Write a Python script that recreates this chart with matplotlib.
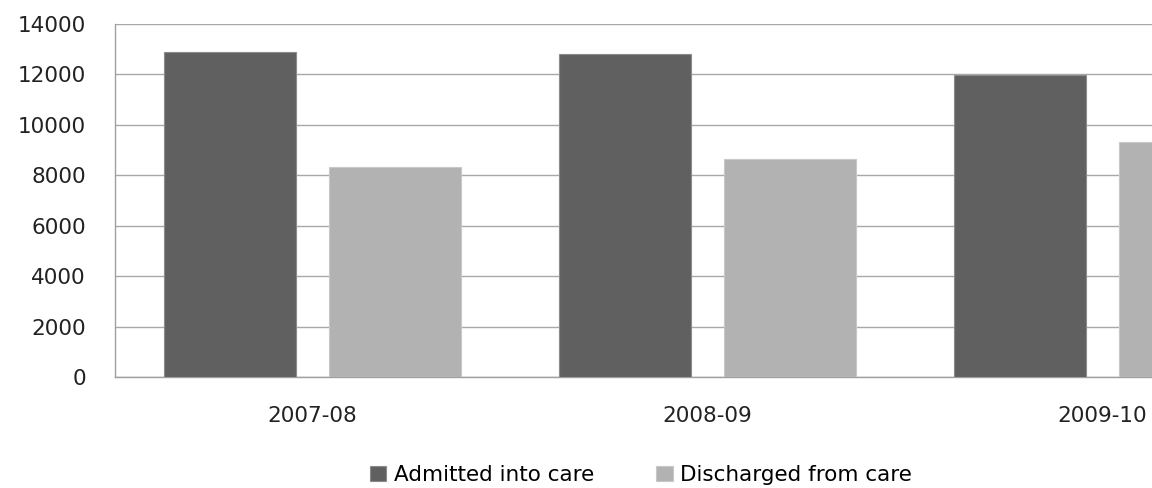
import matplotlib
matplotlib.use("Agg")
import matplotlib.pyplot as plt
import numpy as np

categories = ["2007-08", "2008-09", "2009-10"]
admitted = [12880, 12820, 11990]
discharged = [8320, 8640, 9330]
series_names = ["Admitted into care", "Discharged from care"]
yticks = [0, 2000, 4000, 6000, 8000, 10000, 12000, 14000]

plt.rcParams['font.family'] = ['DejaVu Sans']

W, H = 1152, 488
fig = plt.figure(figsize=(W / 100, H / 100), dpi=100)
ax = fig.add_axes([115 / W, 111 / H, 1185 / W, 353 / H])

x = np.arange(len(categories))
bw = 0.333
off = 0.2085
ax.bar(x - off, admitted, bw, color="#606060", edgecolor="#8c8c8c", linewidth=0.8,
       label=series_names[0], zorder=3)
ax.bar(x + off, discharged, bw, color="#b2b2b2", edgecolor="#c8c8c8", linewidth=0.8,
       label=series_names[1], zorder=3)

ax.set_xlim(-0.5, 2.5)
ax.set_ylim(0, 14000)
ax.set_yticks(yticks)
ax.set_yticklabels([str(v) for v in yticks], fontsize=15.5, color="#222222")
ax.set_xticks(x)
ax.set_xticklabels(categories, fontsize=15.5, color="#222222")
ax.tick_params(axis="both", length=0)
ax.tick_params(axis="y", pad=21)
ax.tick_params(axis="x", pad=21)

ax.yaxis.grid(True, color="#a8a8a8", linewidth=1.0, zorder=0)
ax.set_axisbelow(True)
for s in ["top", "right"]:
    ax.spines[s].set_visible(False)
for s in ["left", "bottom"]:
    ax.spines[s].set_color("#a0a0a0")
    ax.spines[s].set_linewidth(1.0)

fig.legend(loc="center", bbox_to_anchor=(641 / W, 1 - 475 / H), ncol=2, frameon=False,
           fontsize=15.5, handlelength=0.75, handleheight=0.75, handletextpad=0.35,
           columnspacing=2.9, borderaxespad=0)

fig.savefig("out.png", dpi=100)
